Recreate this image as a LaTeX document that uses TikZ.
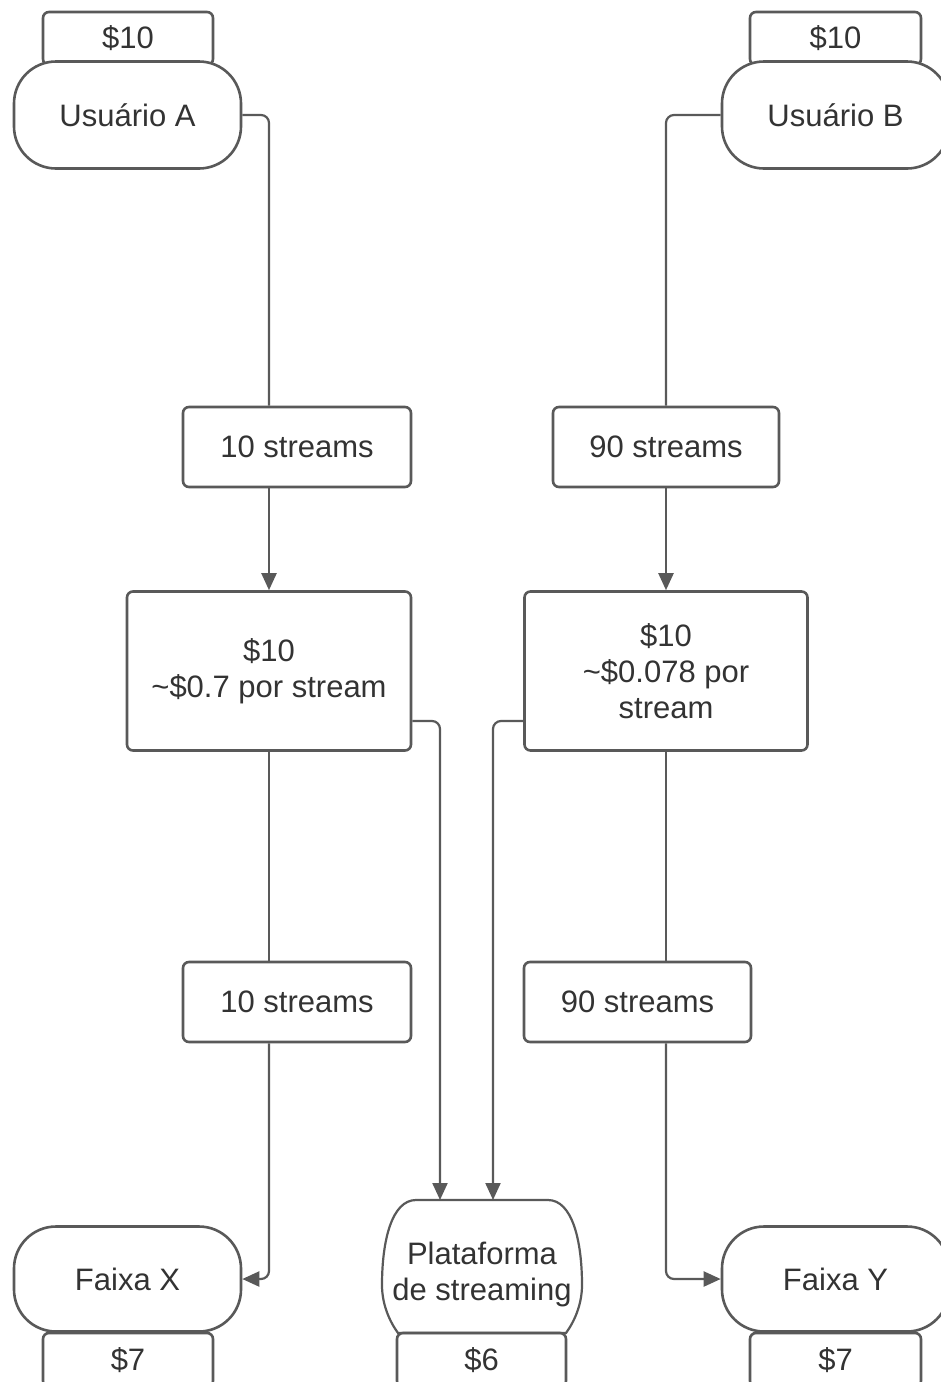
\documentclass[tikz,border=0pt]{standalone}
\usepackage{fontspec}
\setmainfont{Liberation Sans}
\usetikzlibrary{arrows.meta}
\definecolor{edgegray}{HTML}{595959}
\definecolor{textgray}{HTML}{333333}

\begin{document}
\begin{tikzpicture}[x=1pt,y=-1pt]

    \tikzset{
      box/.style={
        draw=edgegray,
        line width=2.6pt,
        fill=white,
        text=textgray,
        rounded corners=6pt,
        inner sep=0pt,
        align=center,
        font=\fontsize{31}{36}\selectfont,
      },
      pill/.style={box, rounded corners=42pt},
      link/.style={draw=edgegray, line width=2.2pt, rounded corners=8pt},
      flow/.style={link, -{Triangle[length=17pt,width=15pt]}},
    }
    \useasboundingbox (0,0) rectangle (941,1382);
    \clip (0,0) rectangle (941,1382);

	% users
	\node[box, minimum width=170pt, minimum height=53pt] (tagA) at (128,38.5) {\$10};
	\node[pill, minimum width=227pt, minimum height=107pt] (userA) at (127.5,115) {Usuário A};
	\node[box, minimum width=171pt, minimum height=53pt] (tagB) at (835.5,38.5) {\$10};
	\node[pill, minimum width=227pt, minimum height=107pt] (userB) at (835.5,115) {Usuário B};

	% streams and cost per stream
	\node[box, minimum width=228pt, minimum height=80pt] (strA1) at (297,447) {10 streams};
	\node[box, minimum width=226pt, minimum height=80pt] (strB1) at (666,447) {90 streams};
	\node[box, minimum width=284pt, minimum height=159pt] (costA) at (269,671) {\$10\\\textasciitilde\$0.7 por stream};
	\node[box, minimum width=283pt, minimum height=159pt] (costB) at (666,671) {\$10\\\textasciitilde\$0.078 por\\stream};
	\node[box, minimum width=228pt, minimum height=80pt] (strA2) at (297,1002) {10 streams};
	\node[box, minimum width=227pt, minimum height=80pt] (strB2) at (637.5,1002) {90 streams};

	% receivers
	\node[box, minimum width=170pt, minimum height=54pt] (payX) at (128,1360) {\$7};
	\node[pill, minimum width=227pt, minimum height=105pt] (trackX) at (127.5,1279) {Faixa X};
	\node[box, minimum width=171pt, minimum height=54pt] (payY) at (835.5,1360) {\$7};
	\node[pill, minimum width=227pt, minimum height=105pt] (trackY) at (835.5,1279) {Faixa Y};
	\node[box, minimum width=169pt, minimum height=54pt] (payP) at (481.5,1360) {\$6};
	\draw[link, rounded corners=0pt] (416,1200) -- (548,1200)
	  .. controls (572,1200) and (582,1240) .. (582,1285)
	  .. controls (582,1305) and (574,1322) .. (566,1333)
	  -- (398,1333)
	  .. controls (390,1322) and (382,1305) .. (382,1285)
	  .. controls (382,1240) and (392,1200) .. (416,1200) -- cycle;
	\node[box, draw=none, fill=none, minimum width=200pt, minimum height=116pt] (plat) at (482,1274) {Plataforma\\de streaming};
	\coordinate (inA) at (440,1200);
	\coordinate (inB) at (493,1200);

	% connectors
	\draw[link] (userA.east) -| (costA.north |- strA1.north);
	\draw[flow] (costA.north |- strA1.south) -- (costA.north);
	\draw[link] (costA.south) -- (costA.south |- strA2.north);
	\draw[flow] (costA.south |- strA2.south) |- (trackX.east);
	\draw[flow] ([yshift=-50pt]costA.east) -| (inA);

	\draw[link] (userB.west) -| (costB.north |- strB1.north);
	\draw[flow] (strB1.south) -- (costB.north);
	\draw[link] (costB.south) -- (costB.south |- strB2.north);
	\draw[flow] (costB.south |- strB2.south) |- (trackY.west);
	\draw[flow] ([yshift=-50pt]costB.west) -| (inB);

\end{tikzpicture}
\end{document}
